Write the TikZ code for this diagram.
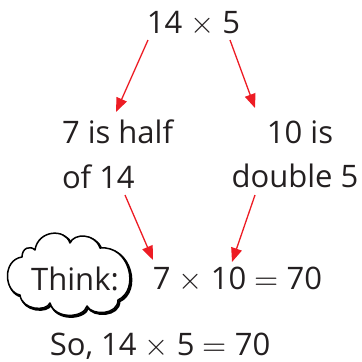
\documentclass[tikz,border=0pt]{standalone}
\usepackage{unicode-math}
\setmainfont{Open Sans}
\setmathfont{Latin Modern Math}
\usetikzlibrary{arrows.meta}
\definecolor{arrred}{RGB}{237,28,36}
\definecolor{txt}{RGB}{35,31,32}
\newcommand{\tms}{$\times$}
\newcommand{\eqs}{$=$}
\begin{document}
\begin{tikzpicture}[x=1pt,y=-1pt,
  lbl/.style={inner sep=0pt,outer sep=0pt,text=txt,font=\fontsize{31}{37}\selectfont},
  arr/.style={draw=arrred,line width=1.3pt,-{Triangle[length=14pt,width=11pt]}},
  cloudline/.style={line width=1.5pt,line join=round}]
\useasboundingbox (0,0) rectangle (362,362);
% nodes
\node[lbl,anchor=base] (t) at (193.5,33) {14 \tms{} 5};
\node[lbl,anchor=base west] (h1) at (62,143) {7 is half};
\node[lbl,anchor=base west] (h2) at (62,188) {of 14};
\node[lbl,anchor=base] (d1) at (300,143) {10 is};
\node[lbl,anchor=base] (d2) at (295,187) {double 5};
% cloud
\def\cloudpath{(20,295) .. controls (4,292) and (2,260) .. (22,257)
  .. controls (22,248) and (30,245) .. (35,250)
  .. controls (38,230) and (65,228) .. (70,243)
  .. controls (74,233) and (95,233) .. (100,248)
  .. controls (130,245) and (140,290) .. (118,300)
  .. controls (118,315) and (92,316) .. (87,306)
  .. controls (84,318) and (55,320) .. (50,303)
  .. controls (46,312) and (22,310) .. cycle}
\draw[cloudline,line width=2.4pt,shift={(1.3,1.3)}] \cloudpath;
\filldraw[cloudline,fill=white,draw=black] \cloudpath;
\node[lbl,anchor=base] (th) at (75,290) {Think:};
\node[lbl,anchor=base] (eq) at (237.5,289) {7 \tms{} 10 \eqs{} 70};
\node[lbl,anchor=base] (so) at (160,355) {So, 14 \tms{} 5 \eqs{} 70};
% arrows
\draw[arr] ([shift={(-45.5,7)}]t.base) -- ([shift={(54,-31)}]h1.base west);
\draw[arr] ([shift={(36.5,7)}]t.base) -- ([shift={(-45,-35)}]d1.base);
\draw[arr] ([shift={(63,7)}]h2.base west) -- ([shift={(-84.5,-29)}]eq.base);
\draw[arr] ([shift={(-40,8)}]d2.base) -- ([shift={(-5.5,-27)}]eq.base);
\end{tikzpicture}
\end{document}
